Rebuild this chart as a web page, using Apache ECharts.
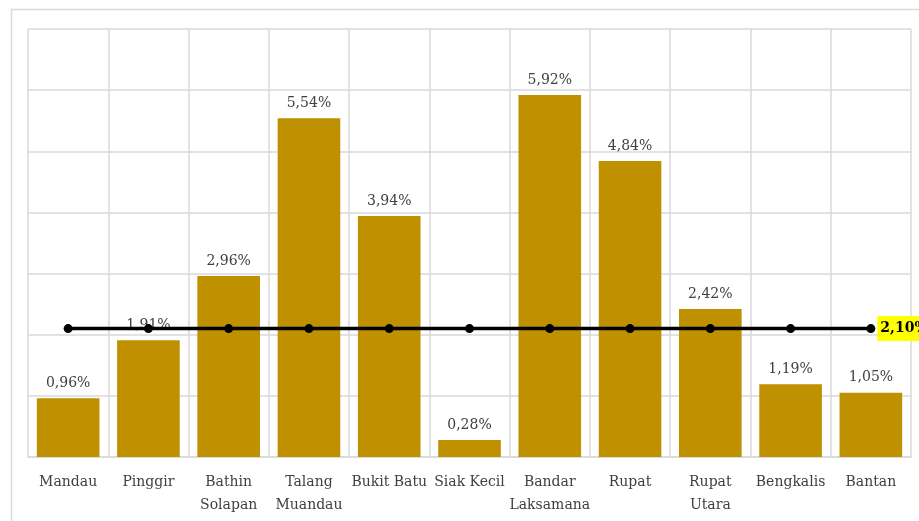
<!DOCTYPE html>
<html><head><meta charset="utf-8">
<script src="https://cdn.jsdelivr.net/npm/echarts@6/dist/echarts.min.js"></script>
<style>html,body{margin:0;padding:0;background:#fff}#c{width:919px;height:521px}</style>
</head><body><div id="c"></div>
<script>
const categories = ["Mandau","Pinggir","Bathin\nSolapan","Talang\nMuandau","Bukit Batu","Siak Kecil","Bandar\nLaksamana","Rupat","Rupat\nUtara","Bengkalis","Bantan"];
const values = [0.96,1.91,2.96,5.54,3.94,0.28,5.92,4.84,2.42,1.19,1.05];
const averageValue = 2.10;
const averageLine = categories.map(() => averageValue);

const fmt = v => v.toFixed(2).replace('.', ',') + '%';
const FONT = '"DejaVu Serif", "Liberation Serif", serif';

const chart = echarts.init(document.getElementById('c'));
chart.setOption({
  animation: false,
  backgroundColor: '#fff',
  graphic: [{
    type: 'rect', left: 9, top: 7, shape: {width: 940, height: 540},
    style: {fill: 'none', stroke: '#d9d9d9', lineWidth: 1.5}, z: -1
  }],
  grid: {left: 28, right: 8, top: 29, bottom: 64},
  xAxis: {
    type: 'category', data: categories,
    axisLine: {show: true, lineStyle: {color: '#d9d9d9', width: 1.5}},
    axisTick: {show: false},
    splitLine: {show: true, lineStyle: {color: '#d9d9d9', width: 1.5}},
    axisLabel: {color: '#404040', fontFamily: FONT, fontSize: 14, lineHeight: 23, margin: 14, interval: 0}
  },
  yAxis: {
    type: 'value', min: 0, max: 7, interval: 1,
    axisLabel: {show: false}, axisLine: {show: false}, axisTick: {show: false},
    splitLine: {show: true, lineStyle: {color: '#d9d9d9', width: 1.5}}
  },
  series: [{
    type: 'bar', data: values, barCategoryGap: '22%',
    itemStyle: {color: '#BF9000'},
    label: {show: true, position: 'top', distance: 8, color: '#404040', fontFamily: FONT, fontSize: 14,
      formatter: p => fmt(p.value)},
    z: 2
  }, {
    type: 'line', data: averageLine.map((v, i) => i === averageLine.length - 1 ? {
      value: v,
      label: {show: true, position: 'right', distance: 2, formatter: p => fmt(p.value),
        color: '#000', fontWeight: 'bold', fontFamily: FONT, fontSize: 14,
        backgroundColor: '#FFFF00', padding: [6, 3, 5, 3]}
    } : v),
    symbol: 'circle', symbolSize: 9,
    lineStyle: {color: '#000', width: 3.5},
    itemStyle: {color: '#000'},
    label: {show: false},
    z: 5
  }]
});
</script></body></html>
